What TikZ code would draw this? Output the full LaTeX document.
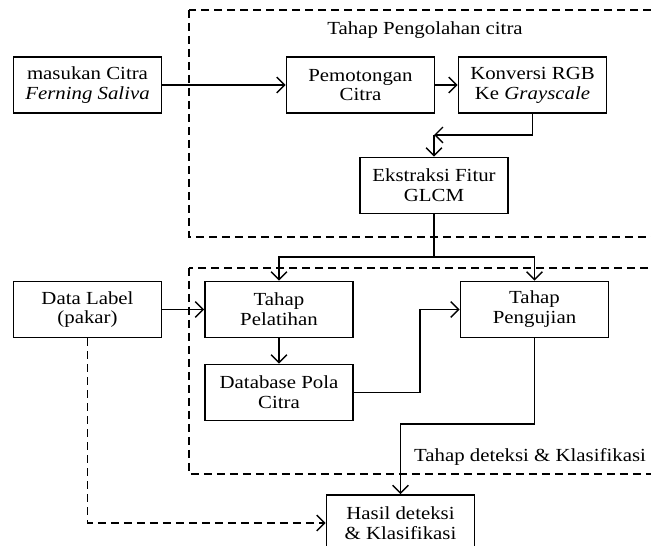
\documentclass[tikz,border=0pt]{standalone}
\usepackage{fontspec}
\setmainfont{Liberation Serif}[FakeStretch=1.13]
\usetikzlibrary{arrows.meta,calc}

\tikzset{
	blok/.style={draw, line width=1pt, minimum width=2.96cm, minimum height=1.12cm, align=center, inner sep=1pt},
	bingkai/.style={line width=1pt, dash pattern=on 0.16cm off 0.1cm},
	panah/.style={->, line width=0.8pt},
}

\begin{document}
\begin{tikzpicture}[x=0.02cm,y=-0.02cm,>={Straight Barb[length=4.5pt,width=9pt]},font=\fontsize{10.5}{11.3}\selectfont]

	\useasboundingbox (0,0) rectangle (651,546);

	% Draw the dashed frames of both stages
	\draw[bingkai] (189,10) rectangle (700,237);
	\draw[bingkai] (189,268) rectangle (700,474);
	\node (judulolah) at (425,30) {Tahap Pengolahan citra};
	\node (judulkelas) at (530,457) {Tahap deteksi \& Klasifikasi};

	% Draw the boxes of the image processing stage
	\node[blok] (masukan) at (87.5,85) {masukan Citra\\\textit{Ferning Saliva}};
	\node[blok] (potong) at (360.5,85) {Pemotongan\\Citra};
	\node[blok] (konversi) at (532.5,85) {Konversi RGB\\Ke \textit{Grayscale}};
	\node[blok] (ekstraksi) at (434,185.5) {Ekstraksi Fitur\\GLCM};

	% Draw the boxes of the detection stage
	\node[blok] (datalabel) at (87.5,309.5) {Data Label\\(pakar)};
	\node[blok] (pelatihan) at (279,309.5) {Tahap\\Pelatihan};
	\node[blok] (database) at (279,392.5) {Database Pola\\Citra};
	\node[blok] (pengujian) at (534.5,309.5) {Tahap\\Pengujian};
	\node[blok] (hasil) at (400.5,523) {Hasil deteksi\\\& Klasifikasi};

	% Turning points of the connectors
	\coordinate (belok) at (434,135);
	\coordinate (cabang) at (434,257);
	\coordinate (siku) at (420,392.5);
	\coordinate (turun) at (400.5,424);

	% Draw the connectors
	\draw[panah] (masukan) -- (potong);
	\draw[panah] (potong) -- (konversi);
	\draw[panah] (konversi.south) |- (belok);
	\draw[panah] (belok) -- (ekstraksi.north);
	\draw[line width=0.8pt] (ekstraksi.south) -- (cabang);
	\draw[panah] (cabang) -| (pelatihan.north);
	\draw[panah] (cabang) -| (pengujian.north);
	\draw[panah] (datalabel) -- (pelatihan);
	\draw[panah] (pelatihan) -- (database);
	\draw[panah] (database.east) -- (siku) |- (pengujian.west);
	\draw[panah] (pengujian.south) |- (turun) -- (hasil.north);

	% Draw the dashed connector from the expert labels
	\draw[panah,bingkai,line width=0.8pt] (datalabel.south) |- (hasil.west);

\end{tikzpicture}
\end{document}
